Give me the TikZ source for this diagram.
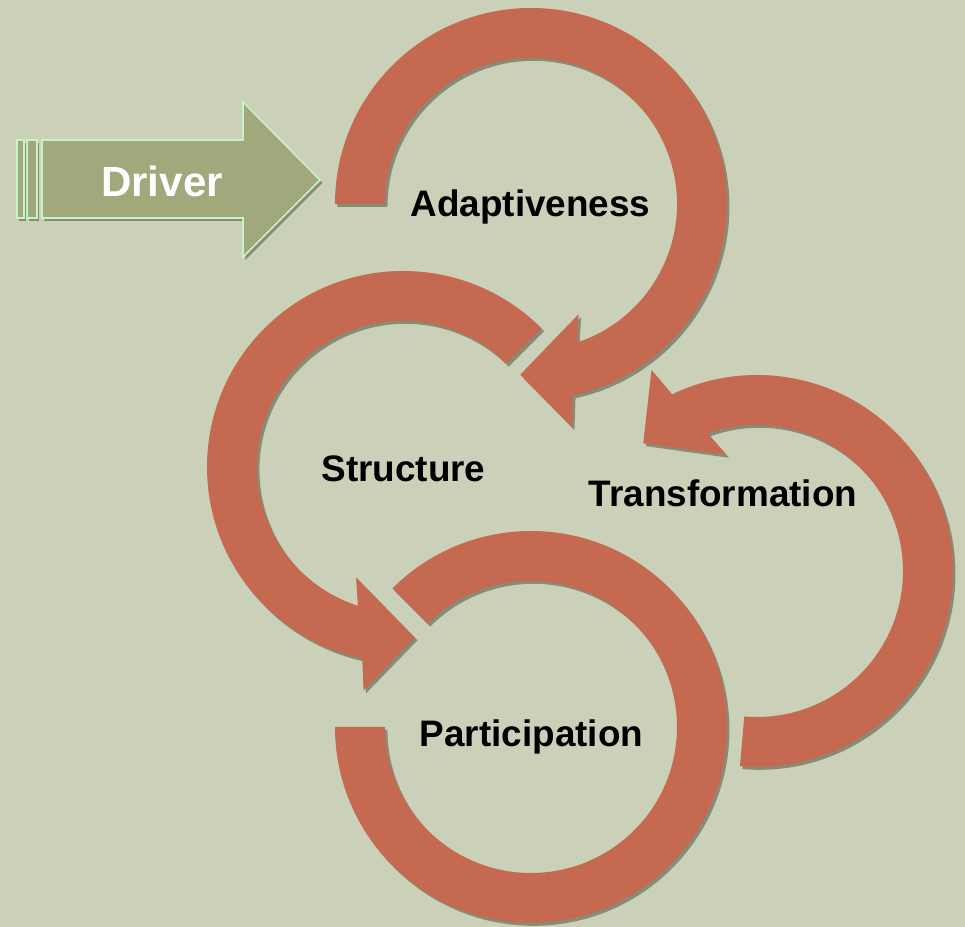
\documentclass[tikz,border=0pt]{standalone}
\usepackage{fontspec}
\setmainfont{Liberation Sans}
\usetikzlibrary{shadows}

\definecolor{bgcol}{RGB}{203,209,184}
\definecolor{ringcol}{RGB}{197,105,80}
\definecolor{drivecol}{RGB}{160,168,124}
\definecolor{drivelinecol}{RGB}{202,242,200}
\definecolor{shadecol}{RGB}{66,74,56}

\begin{document}
\begin{tikzpicture}[x=0.02cm,y=0.02cm]
            \tikzstyle{ring}=[fill=ringcol, drop shadow={shadow xshift=1.4pt, shadow yshift=-1.6pt, fill=shadecol, opacity=0.5}]
            \tikzstyle{drive}=[fill=drivecol, draw=drivelinecol, line width=0.9pt, drop shadow={shadow xshift=1.4pt, shadow yshift=-1.6pt, fill=shadecol, opacity=0.5}]
            \tikzstyle{lbl}=[anchor=base, font=\fontsize{21}{25}\selectfont\bfseries]
            \path[use as bounding box, fill=bgcol] (0,0) rectangle (965,927);
            % ring centres
            \coordinate (adapt) at (531,723);
            \coordinate (struct) at (403,460);
            \coordinate (trans) at (757,356);
            \coordinate (partic) at (531,200);
            % arrows with heads: centre / start / tip / direction
            \foreach \c/\st/\tp/\d in {adapt/180/-93.6/-1, struct/45/274/1, trans/-95/131.7/1}
                \path[ring, shift={(\c)}] (\st:196) arc[start angle=\st, end angle={\tp-\d*16}, radius=196]
                    -- ({\tp-\d*14}:227) -- (\tp:171) -- ({\tp-\d*27}:120) -- ({\tp-\d*22}:146)
                    arc[start angle={\tp-\d*22}, end angle=\st, radius=146] -- cycle;
            % ring without head
            \path[ring, shift={(partic)}] (180:196) arc[start angle=180, end angle=495, radius=196]
                -- (495:146) arc[start angle=495, end angle=180, radius=146] -- cycle;
            % driver arrow
            \draw[drive] (17,709) rectangle (24,787);
            \draw[drive] (27,709) rectangle (37,787);
            \draw[drive] (42,787) -- (243,787) -- (243,825) -- (320,747) -- (243,670) -- (243,709) -- (42,709) -- cycle;
            \node[lbl, text=white, font=\fontsize{24}{28}\selectfont\bfseries] (driver) at (162,730) {Driver};
            % labels
            \node[lbl] (adaptlbl) at (530.5,710) {Adaptiveness};
            \node[lbl] (structlbl) at (403.5,445) {Structure};
            \node[lbl] (translbl) at (723,420) {Transformation};
            \node[lbl] (particlbl) at (531.5,180) {Participation};
\end{tikzpicture}
\end{document}
